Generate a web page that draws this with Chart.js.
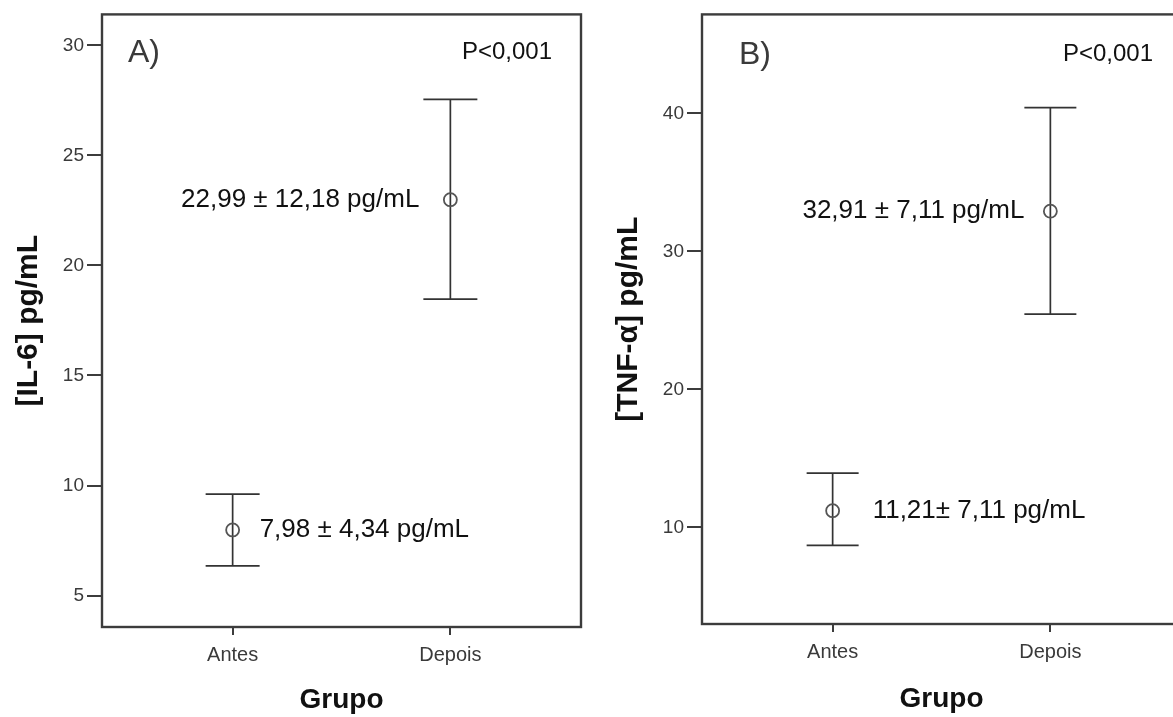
<!DOCTYPE html>
<html><head><meta charset="utf-8">
<script src="https://cdn.jsdelivr.net/npm/chart.js@4.4.1/dist/chart.umd.min.js"></script>
<style>
html,body{margin:0;padding:0;background:#fff;overflow:hidden;width:1173px;height:717px;}
.p{position:absolute;top:0;width:600px;height:717px;}
</style></head><body>
<div class="p" style="left:0"><canvas id="c1" width="600" height="717"></canvas></div>
<div class="p" style="left:600px"><canvas id="c2" width="600" height="717"></canvas></div>
<script>
// ---- data ----
const categories = ['Antes', 'Depois'];

const il6Mean  = [7.98, 22.99];
const il6Lower = [6.35, 18.47];
const il6Upper = [9.61, 27.55];
const il6Labels = ['7,98 ± 4,34 pg/mL', '22,99 ± 12,18 pg/mL'];
const il6Ticks = [5, 10, 15, 20, 25, 30];

const tnfMean  = [11.21, 32.91];
const tnfLower = [8.70, 25.45];
const tnfUpper = [13.93, 40.41];
const tnfLabels = ['11,21± 7,11 pg/mL', '32,91 ± 7,11 pg/mL'];
const tnfTicks = [10, 20, 30, 40];

const pText = 'P<0,001';

// ---- styles ----
const FONT = "'Liberation Sans', Arial, sans-serif";
const AXIS_COLOR = '#3c3c3c';
const TEXT_GRAY = '#3a3a3a';

function makeChart(id, o) {
  const errPlugin = {
    id: 'errbars_' + id,
    beforeDatasetsDraw(chart) {
      const {ctx, scales: {x, y}} = chart;
      ctx.save();
      ctx.strokeStyle = '#333';
      ctx.lineWidth = 1.7;
      for (let i = 0; i < o.mean.length; i++) {
        const px = x.getPixelForValue(i);
        const yl = y.getPixelForValue(o.lower[i]);
        const yu = y.getPixelForValue(o.upper[i]);
        ctx.beginPath();
        ctx.moveTo(px, yl); ctx.lineTo(px, yu);
        ctx.moveTo(px - o.cap, yl); ctx.lineTo(px + o.cap, yl);
        ctx.moveTo(px - o.cap, yu); ctx.lineTo(px + o.cap, yu);
        ctx.stroke();
      }
      ctx.restore();
    },
    afterDraw(chart) {
      const {ctx, chartArea: a, scales: {x, y}} = chart;
      ctx.save();
      // frame
      ctx.strokeStyle = AXIS_COLOR;
      ctx.lineWidth = 2.4;
      ctx.strokeRect(a.left, a.top, a.right - a.left, a.bottom - a.top);
      // value labels
      ctx.fillStyle = '#111';
      ctx.font = o.labelFont + 'px ' + FONT;
      ctx.textBaseline = 'middle';
      for (let i = 0; i < o.mean.length; i++) {
        const px = x.getPixelForValue(i);
        const py = y.getPixelForValue(o.mean[i]);
        if (o.sides[i] === 'right') {
          ctx.textAlign = 'left';
          ctx.fillText(o.labels[i], px + o.gaps[i], py);
        } else {
          ctx.textAlign = 'right';
          ctx.fillText(o.labels[i], px - o.gaps[i], py);
        }
      }
      // P value
      ctx.font = '24px ' + FONT;
      ctx.textAlign = 'right';
      ctx.fillText(pText, a.right - o.pRight, a.top + o.pTop);
      // panel letter
      ctx.fillStyle = TEXT_GRAY;
      ctx.font = o.panelFont + 'px ' + FONT;
      ctx.textAlign = 'left';
      ctx.fillText(o.panel, a.left + o.panelLeft, a.top + o.panelTop);
      ctx.restore();
    }
  };

  return new Chart(document.getElementById(id), {
    type: 'scatter',
    data: {
      datasets: [{
        data: o.mean.map((v, i) => ({x: i, y: v})),
        pointStyle: 'circle',
        pointRadius: 6.5,
        pointBorderWidth: 1.8,
        pointBorderColor: '#555',
        pointBackgroundColor: 'rgba(255,255,255,0)',
        showLine: false
      }]
    },
    options: {
      responsive: false,
      animation: false,
      devicePixelRatio: 1,
      layout: {padding: {top: 14, right: 19, left: 0, bottom: 0}},
      plugins: {legend: {display: false}, tooltip: {enabled: false}},
      scales: {
        x: {
          type: 'linear',
          min: -0.6, max: 1.6,
          afterBuildTicks: s => { s.ticks = categories.map((c, i) => ({value: i})); },
          afterFit: s => { s.height = o.xAxisHeight; },
          border: {display: false},
          grid: {drawOnChartArea: false, drawTicks: true, tickLength: 8, color: AXIS_COLOR, lineWidth: 2},
          ticks: {
            autoSkip: false, maxRotation: 0, padding: 8,
            color: TEXT_GRAY, font: {family: FONT, size: 20},
            callback: v => categories[v]
          },
          title: {display: true, text: 'Grupo', color: '#111',
            font: {family: FONT, size: 28, weight: 'bold'}, padding: {top: 0, bottom: o.xTitlePad}}
        },
        y: {
          type: 'linear',
          min: o.ymin, max: o.ymax,
          afterBuildTicks: s => { s.ticks = o.ticks.map(v => ({value: v})); },
          afterFit: s => { s.width = 102; },
          border: {display: false},
          grid: {drawOnChartArea: false, drawTicks: true, tickLength: 15, color: AXIS_COLOR, lineWidth: 2},
          ticks: {padding: 3, color: TEXT_GRAY, font: {family: FONT, size: 19}},
          title: {display: true, text: o.yTitle, color: '#111',
            font: {family: FONT, size: 30, weight: 'bold'}, padding: {top: 11, bottom: 0}}
        }
      }
    },
    plugins: [errPlugin]
  });
}

makeChart('c1', {
  mean: il6Mean, lower: il6Lower, upper: il6Upper, labels: il6Labels, ticks: il6Ticks,
  ymin: 3.57, ymax: 31.41, yTitle: '[IL-6] pg/mL', panel: 'A)',
  sides: ['right', 'left'], gaps: [27, 31], cap: 27,
  xAxisHeight: 90, xTitlePad: 0,
  labelFont: 26, pRight: 29, pTop: 38, panelFont: 32, panelLeft: 26, panelTop: 39
});
makeChart('c2', {
  mean: tnfMean, lower: tnfLower, upper: tnfUpper, labels: tnfLabels, ticks: tnfTicks,
  ymin: 3.0, ymax: 47.17, yTitle: '[TNF-α] pg/mL', panel: 'B)',
  sides: ['right', 'left'], gaps: [40, 26], cap: 26,
  xAxisHeight: 93, xTitlePad: 1,
  labelFont: 26, pRight: 28, pTop: 40, panelFont: 32, panelLeft: 37, panelTop: 41
});
</script>
</body></html>
